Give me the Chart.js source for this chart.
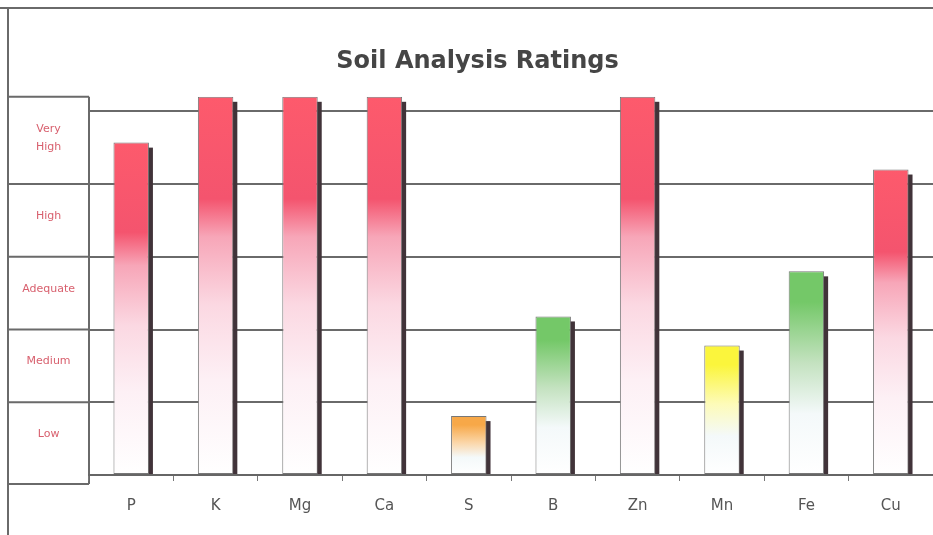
<!DOCTYPE html>
<html>
<head>
<meta charset="utf-8">
<title>Soil Analysis Ratings</title>
<script src="https://cdn.jsdelivr.net/npm/chart.js@4/dist/chart.umd.min.js"></script>
<style>
  html, body { margin: 0; padding: 0; background: #fff; }
  #wrap { width: 933px; height: 535px; }
</style>
</head>
<body>
<div id="wrap"><canvas id="myChart" width="933" height="535"></canvas></div>
<script>
// data (0 = bottom of Low, 5 = top of Very High)
const nutrients = ['P', 'K', 'Mg', 'Ca', 'S', 'B', 'Zn', 'Mn', 'Fe', 'Cu'];
const ratings = [4.57, 5.2, 5.2, 5.2, 0.81, 2.18, 5.2, 1.78, 2.8, 4.2];
const ratingLabels = ['Low', 'Medium', 'Adequate', 'High', ['Very', 'High']];
const axisMax = 5.2;

// colour of a bar depends on the band its top falls in
function bandColours(v) {
    if (v < 1) return ['#f7a848', '#fbd6a8'];
    if (v < 2) return ['#fbf53c', '#fdfbb8'];
    if (v < 3) return ['#74c868', '#c4e2c0'];
    return ['#fd5a6c', '#f7a6b8'];
}

function barFill(context) {
    if (context.type !== 'data') return '#ffffff';
    const chart = context.chart;
    const yScale = chart.scales.y;
    if (!chart.chartArea || !yScale) return '#ffffff';
    const top = yScale.getPixelForValue(context.raw);
    const bottom = yScale.getPixelForValue(0);
    const c = bandColours(context.raw);
    const g = chart.ctx.createLinearGradient(0, top, 0, bottom);
    if (context.raw >= 3) {
        g.addColorStop(0, c[0]);
        g.addColorStop(0.27, '#f4546e');
        g.addColorStop(0.37, c[1]);
        g.addColorStop(0.55, '#fbd8e2');
        g.addColorStop(0.75, '#fdf0f5');
        g.addColorStop(1, '#ffffff');
    } else {
        g.addColorStop(0, c[0]);
        g.addColorStop(0.15, c[0]);
        g.addColorStop(0.45, c[1]);
        g.addColorStop(0.7, '#f4f9fa');
        g.addColorStop(1, '#ffffff');
    }
    return g;
}

// label boxes on the left and the outer frame
const framePlugin = {
    id: 'frame',
    beforeDraw(chart) {
        const {ctx, chartArea} = chart;
        const y = chart.scales.y;
        const left = 8;
        const right = chartArea.left;
        const top = chartArea.top;
        const bottom = chartArea.bottom + 9;
        ctx.save();
        ctx.strokeStyle = '#6a6a6a';
        ctx.lineWidth = 2;
        ctx.beginPath();
        ctx.moveTo(0, 8); ctx.lineTo(chart.width, 8);
        ctx.moveTo(left, 8); ctx.lineTo(left, chart.height);
        ctx.moveTo(left, top); ctx.lineTo(right, top);
        ctx.moveTo(left, bottom); ctx.lineTo(right, bottom);
        ctx.moveTo(right, top); ctx.lineTo(right, bottom);
        for (let i = 1; i < ratingLabels.length; i++) {
            const py = y.getPixelForValue(i);
            ctx.moveTo(left, py); ctx.lineTo(right, py);
        }
        ctx.stroke();
        ctx.restore();
    }
};

// dark strip on the right of each bar (bars clip their own canvas shadow)
const shadowPlugin = {
    id: 'barShadow',
    beforeDatasetsDraw(chart) {
        const ctx = chart.ctx;
        const meta = chart.getDatasetMeta(0);
        ctx.save();
        ctx.fillStyle = '#413339';
        meta.data.forEach((bar) => {
            const p = bar.getProps(['x', 'y', 'width', 'base'], true);
            const r = p.x + p.width / 2;
            ctx.fillRect(r - 1, p.y + 5, 5, p.base - p.y - 5);
        });
        ctx.restore();
    }
};

const ctx = document.getElementById('myChart').getContext('2d');
const myChart = new Chart(ctx, {
    type: 'bar',
    data: {
        labels: nutrients,
        datasets: [{
            label: 'Rating',
            data: ratings,
            backgroundColor: barFill,
            borderColor: '#777',
            borderWidth: 1,
            borderSkipped: false,
            categoryPercentage: 1,
            barPercentage: 0.42
        }]
    },
    options: {
        responsive: false,
        animation: false,
        layout: { padding: { left: 22, right: 0, top: 0, bottom: 4 } },
        plugins: {
            legend: { display: false },
            tooltip: { enabled: false },
            title: {
                display: true,
                text: 'Soil Analysis Ratings',
                color: '#454545',
                font: { family: 'DejaVu Sans', size: 24, weight: 'bold' },
                padding: { top: 47, bottom: 21 }
            }
        },
        scales: {
            x: {
                grid: {
                    drawOnChartArea: false,
                    drawTicks: true,
                    tickLength: 6,
                    color: '#777',
                    lineWidth: 1
                },
                border: { display: true, color: '#666', width: 2 },
                ticks: {
                    color: '#555',
                    padding: 16,
                    font: { family: 'DejaVu Sans', size: 15 }
                }
            },
            y: {
                min: 0,
                max: axisMax,
                afterBuildTicks(scale) {
                    // gridlines on whole numbers, band names slightly above each band's middle
                    const t = [];
                    for (let i = 0; i <= ratingLabels.length; i++) {
                        t.push({ value: i });
                        if (i < ratingLabels.length) {
                            t.push({ value: i === 4 ? i + 0.63 : i + 0.56 });
                        }
                    }
                    scale.ticks = t;
                },
                afterFit(scale) { scale.width = 67; },
                grid: {
                    drawTicks: false,
                    lineWidth: 2,
                    color: (c) => (c.tick && Number.isInteger(c.tick.value) && c.tick.value > 0) ? '#6a6a6a' : 'rgba(0,0,0,0)'
                },
                border: { display: false },
                ticks: {
                    autoSkip: false,
                    crossAlign: 'center',
                    padding: 14,
                    color: '#d8606e',
                    font: { family: 'DejaVu Sans', size: 11, lineHeight: 1.7 },
                    callback(value) {
                        if (Number.isInteger(value)) return '';
                        return ratingLabels[Math.floor(value)];
                    }
                }
            }
        }
    },
    plugins: [framePlugin, shadowPlugin]
});
</script>
</body>
</html>
